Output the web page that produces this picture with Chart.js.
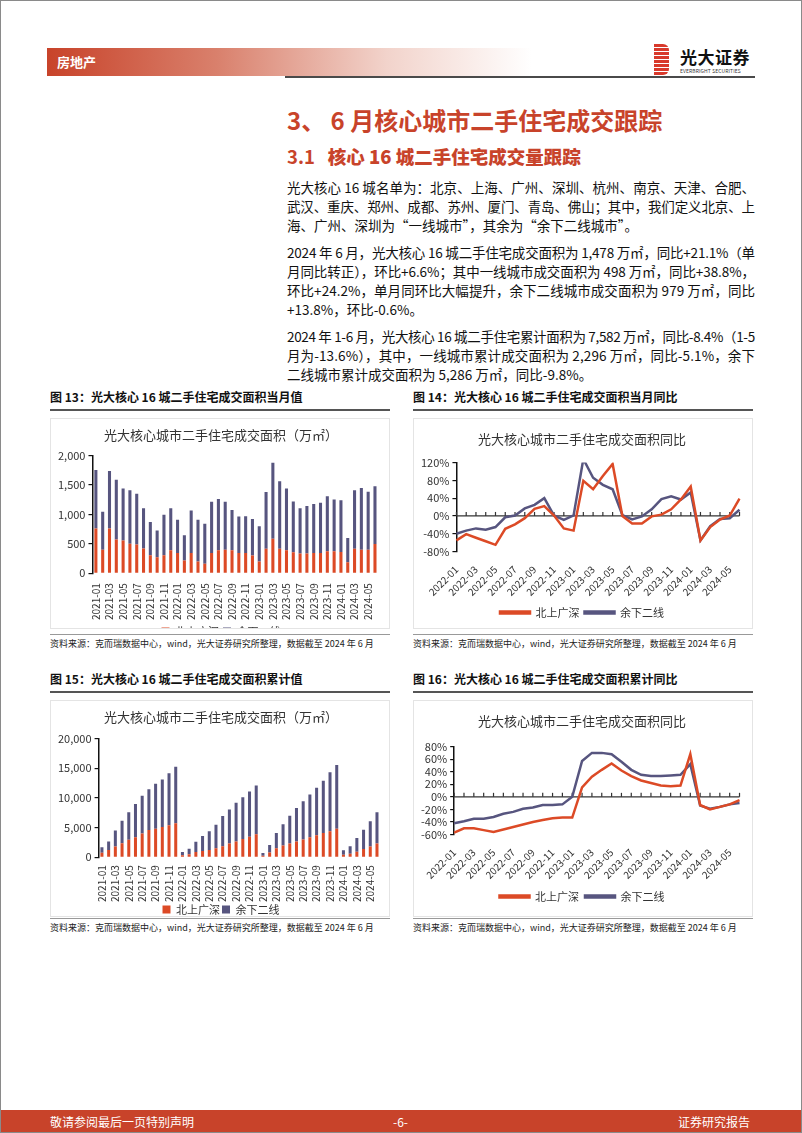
<!DOCTYPE html>
<html><head><meta charset="utf-8">
<script src="https://cdn.jsdelivr.net/npm/chart.js@4.4.1/dist/chart.umd.min.js"></script>
<style>
*{box-sizing:border-box;}
body{margin:0;width:802px;height:1133px;position:relative;background:#fff;overflow:hidden;font-family:"Noto Sans CJK SC","Noto Sans",sans-serif;color:#111;}
.abs{position:absolute;}
.frame{left:0;top:0;width:802px;height:1133px;border:1px solid #8a8a8a;pointer-events:none;}
.hdr{left:47px;top:48px;width:485px;height:28px;background:linear-gradient(to right,#c8432a 0%,#d9806c 35%,#f2d3cb 70%,#fff 100%);}
.hdr span{position:absolute;left:10px;top:4px;color:#fff;font-weight:bold;font-size:13px;}
.hline{left:285px;top:76px;width:470px;height:2px;background:#4a4a4a;}
.logo{left:654px;top:44px;width:15px;height:31px;background:repeating-linear-gradient(to bottom,#d8392b 0 3px,#fff 3px 4px);border-radius:0 6px 6px 0;}
.logot{left:680px;top:44px;font-size:17px;font-weight:bold;color:#111;letter-spacing:0.5px;}
.logos{left:680px;top:67px;font-size:5px;color:#333;letter-spacing:0.1px;}
.h1{left:287px;top:102px;font-size:24px;font-weight:bold;color:#c8432a;white-space:pre;}
.h2{left:287px;top:143px;font-size:18.5px;font-weight:bold;color:#c8432a;white-space:pre;}
.h2 b{margin-left:13px;}
.para{left:287px;width:468px;font-size:13.5px;line-height:19px;color:#111;}
.para div{white-space:nowrap;}
.cap{font-size:12px;font-weight:bold;color:#111;}
.capline{height:2px;background:#555;}
.src{font-size:9px;color:#222;}
.srcline{height:1px;background:#999;}
.box{border:1px solid #e4e4e4;overflow:hidden;background:#fff;}
.footer{left:0;top:1110px;width:802px;height:23px;background:#c8432a;color:#fff;font-size:12px;}
.footer span{position:absolute;top:3px;}
</style></head>
<body>
<div class="abs hdr"><span>房地产</span></div>
<div class="abs logo"></div>
<div class="abs logot">光大证券</div>
<div class="abs logos">EVERBRIGHT SECURITIES</div>
<div class="abs hline"></div>
<div class="abs h1">3、 6 月核心城市二手住宅成交跟踪</div>
<div class="abs h2">3.1<b>核心 16 城二手住宅成交量跟踪</b></div>
<div class="abs para" style="top:178px;">
<div class="fit">光大核心 16 城名单为：北京、上海、广州、深圳、杭州、南京、天津、合肥、</div>
<div class="fit">武汉、重庆、郑州、成都、苏州、厦门、青岛、佛山；其中，我们定义北京、上</div>
<div>海、广州、深圳为“一线城市”，其余为“余下二线城市”。</div>
</div>
<div class="abs para" style="top:243px;">
<div class="fit">2024 年 6 月，光大核心 16 城二手住宅成交面积为 1,478 万㎡，同比+21.1%（单</div>
<div class="fit">月同比转正），环比+6.6%；其中一线城市成交面积为 498 万㎡，同比+38.8%，</div>
<div class="fit">环比+24.2%，单月同环比大幅提升，余下二线城市成交面积为 979 万㎡，同比</div>
<div>+13.8%，环比-0.6%。</div>
</div>
<div class="abs para" style="top:327px;">
<div class="fit">2024 年 1-6 月，光大核心 16 城二手住宅累计面积为 7,582 万㎡，同比-8.4%（1-5</div>
<div class="fit">月为-13.6%），其中，一线城市累计成交面积为 2,296 万㎡，同比-5.1%，余下</div>
<div>二线城市累计成交面积为 5,286 万㎡，同比-9.8%。</div>
</div>

<div class="abs cap" style="left:50px;top:388px;">图 13：光大核心 16 城二手住宅成交面积当月值</div>
<div class="abs cap" style="left:413px;top:388px;">图 14：光大核心 16 城二手住宅成交面积当月同比</div>
<div class="abs capline" style="left:50px;top:409px;width:340px;"></div>
<div class="abs capline" style="left:413px;top:409px;width:340px;"></div>
<div class="abs box" style="left:50px;top:418px;width:340px;height:211px;"><canvas id="c13"></canvas></div>
<div class="abs box" style="left:413px;top:418px;width:340px;height:211px;"><canvas id="c14"></canvas></div>
<div class="abs srcline" style="left:50px;top:634px;width:340px;"></div>
<div class="abs srcline" style="left:413px;top:634px;width:340px;"></div>
<div class="abs src" style="left:50px;top:637px;">资料来源：克而瑞数据中心，wind，光大证券研究所整理，数据截至 2024 年 6 月</div>
<div class="abs src" style="left:413px;top:637px;">资料来源：克而瑞数据中心，wind，光大证券研究所整理，数据截至 2024 年 6 月</div>

<div class="abs cap" style="left:50px;top:670px;">图 15：光大核心 16 城二手住宅成交面积累计值</div>
<div class="abs cap" style="left:413px;top:670px;">图 16：光大核心 16 城二手住宅成交面积累计同比</div>
<div class="abs capline" style="left:50px;top:691px;width:340px;"></div>
<div class="abs capline" style="left:413px;top:691px;width:340px;"></div>
<div class="abs box" style="left:50px;top:700px;width:340px;height:217px;"><canvas id="c15"></canvas></div>
<div class="abs box" style="left:413px;top:700px;width:340px;height:217px;"><canvas id="c16"></canvas></div>
<div class="abs srcline" style="left:50px;top:918px;width:340px;"></div>
<div class="abs srcline" style="left:413px;top:918px;width:340px;"></div>
<div class="abs src" style="left:50px;top:921px;">资料来源：克而瑞数据中心，wind，光大证券研究所整理，数据截至 2024 年 6 月</div>
<div class="abs src" style="left:413px;top:921px;">资料来源：克而瑞数据中心，wind，光大证券研究所整理，数据截至 2024 年 6 月</div>

<div class="abs footer"><span style="left:50px;">敬请参阅最后一页特别声明</span><span style="left:393px;">-6-</span><span style="right:52px;">证券研究报告</span></div>
<div class="abs frame"></div>

<script>
// ---------- data ----------
const monthsBar = ['2021-01','2021-02','2021-03','2021-04','2021-05','2021-06','2021-07','2021-08','2021-09','2021-10','2021-11','2021-12',
'2022-01','2022-02','2022-03','2022-04','2022-05','2022-06','2022-07','2022-08','2022-09','2022-10','2022-11','2022-12',
'2023-01','2023-02','2023-03','2023-04','2023-05','2023-06','2023-07','2023-08','2023-09','2023-10','2023-11','2023-12',
'2024-01','2024-02','2024-03','2024-04','2024-05','2024-06'];
const monthsLine = ['2022-01','2022-02','2022-03','2022-04','2022-05','2022-06','2022-07','2022-08','2022-09','2022-10','2022-11','2022-12',
'2023-01','2023-02','2023-03','2023-04','2023-05','2023-06','2023-07','2023-08','2023-09','2023-10','2023-11','2023-12',
'2024-01','2024-02','2024-03','2024-04','2024-05','2024-06'];
const seriesNames = ['北上广深','余下二线'];

// Fig 13: monthly area (万㎡)
const tier1Monthly = [760,400,760,575,555,500,490,420,305,270,305,390,
345,215,345,200,160,345,390,400,390,345,345,300,
200,415,585,415,390,358,335,335,345,345,375,375,
360,185,415,400,401,498];
const tier2Monthly = [995,645,980,1015,885,910,860,685,565,455,690,715,
565,430,720,710,680,870,870,815,685,620,625,620,
600,965,1295,1150,1050,862,770,810,830,855,935,880,
880,415,995,1050,986,979];

// Fig 15: cumulative area (万㎡)
const tier1Cum = [760,1210,1790,2370,2950,3350,3990,4570,4800,5090,5380,5720,
350,520,870,1040,1210,1500,1850,2310,2660,3060,3470,3870,
230,810,1500,1970,2310,2660,3010,3350,3700,4100,4390,4800,
400,580,930,1390,1800,2296];
const tier2Cum = [920,1450,2720,3760,4620,5610,6360,6880,7570,8030,8780,9540,
520,930,1730,2540,3180,3990,5090,5730,6530,7060,7630,8210,
470,1270,2600,3580,4680,5660,6410,7230,8030,8790,9950,10750,
760,1270,2310,3230,4270,5286];

// Fig 14: monthly YoY (%)
const tier1YoY = [-55,-41,-49,-57,-65,-29,-19,-5,16,22,1,-28,-33,79,60,90,117,0,-17,-17,-1,3,15,37,66,-55,-25,-8,1,38.8];
const tier2YoY = [-40,-33,-28,-31,-25,-3,1,17,25,40,1,-9,1,128,86,70,60,2,-8,-1,15,38,44,37,53,-55,-23,-7,-5,13.8];

// Fig 16: cumulative YoY (%)
const tier1CumYoY = [-57,-50,-50,-53,-56,-52,-48,-44,-40,-37,-34,-33,-33,15,32,43,53,42,33,26,22,18,17,18,68,-13,-20,-16,-12,-5.1];
const tier2CumYoY = [-42,-39,-35,-35,-32,-27,-24,-19,-17,-13,-13,-12,0,57,70,70,68,56,43,35,33,33,34,35,52,-14,-19,-16,-12,-9.8];

const chartTitleArea = '光大核心城市二手住宅成交面积（万㎡）';
const chartTitleYoY = '光大核心城市二手住宅成交面积同比';

// ---------- justify body text lines to the column width ----------
document.querySelectorAll('.para .fit').forEach(d => {
  const s = document.createElement('span');
  s.textContent = d.textContent; d.textContent = ''; d.appendChild(s);
  const w = s.getBoundingClientRect().width;
  const n = s.textContent.length;
  s.style.letterSpacing = ((468 - w) / (n - 0.5)) + 'px';
});

// ---------- styles ----------
const RED = '#dc4a26';
const PURPLE = '#57557f';
Chart.defaults.font.family = '"Noto Sans CJK SC","Noto Sans",sans-serif';
Chart.defaults.color = '#333';
Chart.defaults.animation = false;

const everyOther = function(val, idx){ return idx % 2 === 0 ? this.getLabelForValue(val) : ''; };

function yAxis(min, max, step, fmt){
  return {
    min, max,
    ticks:{stepSize:step, autoSkip:false, font:{size:11}, color:'#333', padding:3, callback: fmt},
    grid:{drawOnChartArea:false, drawTicks:true, tickLength:4, color:'#111', lineWidth:1.2},
    border:{display:true, color:'#111', width:1.5}
  };
}

const zeroAxis = {
  id:'zeroAxis',
  beforeDatasetsDraw(chart){
    const {ctx, chartArea, scales} = chart;
    const y = scales.y.getPixelForValue(0);
    ctx.save();
    ctx.strokeStyle = '#333'; ctx.lineWidth = 1.2;
    ctx.beginPath(); ctx.moveTo(chartArea.left, y); ctx.lineTo(chartArea.right, y); ctx.stroke();
    const n = chart.data.labels.length;
    for (let i = 0; i < n; i++){
      const x = scales.x.getPixelForValue(i);
      ctx.beginPath(); ctx.moveTo(x, y); ctx.lineTo(x, y - 4); ctx.stroke();
    }
    ctx.restore();
  }
};

function barChart(id, height, t1, t2, min, max, step, tpad, legPad, tickPad){
  const cv = document.getElementById(id);
  cv.style.width = '338px'; cv.style.height = height + 'px';
  return new Chart(cv, {
    type:'bar',
    data:{labels: monthsBar, datasets:[
      {label: seriesNames[0], data: t1, backgroundColor: RED, stack:'s', barPercentage:0.45, categoryPercentage:1},
      {label: seriesNames[1], data: t2, backgroundColor: PURPLE, stack:'s', barPercentage:0.45, categoryPercentage:1}
    ]},
    options:{
      responsive:false, maintainAspectRatio:false,
      layout:{padding:{left:4, right:2, top:0, bottom:0}},
      plugins:{
        title:{display:true, text: chartTitleArea, font:{size:13, weight:'normal'}, color:'#333', padding:tpad},
        legend:{position:'bottom', labels:{boxWidth:8, boxHeight:8, font:{size:11}, color:'#333', padding:legPad}},
        tooltip:{enabled:false}
      },
      scales:{
        x:{stacked:true, grid:{display:false}, border:{display:false},
           ticks:{autoSkip:false, maxRotation:90, minRotation:90, font:{size:10}, color:'#333', padding:tickPad, callback: everyOther}},
        y: Object.assign(yAxis(min, max, step, v => v.toLocaleString('en-US')), {stacked:true})
      }
    }
  });
}

function lineChart(id, height, t1, t2, min, max, step, tpad, legPad){
  const cv = document.getElementById(id);
  cv.style.width = '338px'; cv.style.height = height + 'px';
  return new Chart(cv, {
    type:'line',
    data:{labels: monthsLine, datasets:[
      {label: seriesNames[0], data: t1, borderColor: RED, backgroundColor: RED, borderWidth:2.5, pointRadius:0, tension:0},
      {label: seriesNames[1], data: t2, borderColor: PURPLE, backgroundColor: PURPLE, borderWidth:2.5, pointRadius:0, tension:0}
    ]},
    options:{
      responsive:false, maintainAspectRatio:false,
      layout:{padding:{left:4, right:6, top:0, bottom:4}},
      plugins:{
        title:{display:true, text: chartTitleYoY, font:{size:13, weight:'normal'}, color:'#333', padding:tpad},
        legend:{position:'bottom', labels:{boxWidth:30, boxHeight:2, font:{size:11}, color:'#333', padding:legPad}},
        tooltip:{enabled:false}
      },
      scales:{
        x:{grid:{display:false}, border:{display:false},
           ticks:{autoSkip:false, maxRotation:45, minRotation:45, font:{size:10}, color:'#333', padding:4, callback: everyOther}},
        y: yAxis(min, max, step, v => v + '%')
      }
    },
    plugins:[zeroAxis]
  });
}

barChart('c13', 228, tier1Monthly, tier2Monthly, 0, 2000, 500, {top:8, bottom:13}, 4, 2);
lineChart('c14', 213, tier1YoY, tier2YoY, -80, 120, 40, {top:12, bottom:16}, 5);
barChart('c15', 224, tier1Cum, tier2Cum, 0, 20000, 5000, {top:8, bottom:14}, 2, 0);
lineChart('c16', 215, tier1CumYoY, tier2CumYoY, -60, 80, 20, {top:12, bottom:18}, 6);
</script>
</body></html>
